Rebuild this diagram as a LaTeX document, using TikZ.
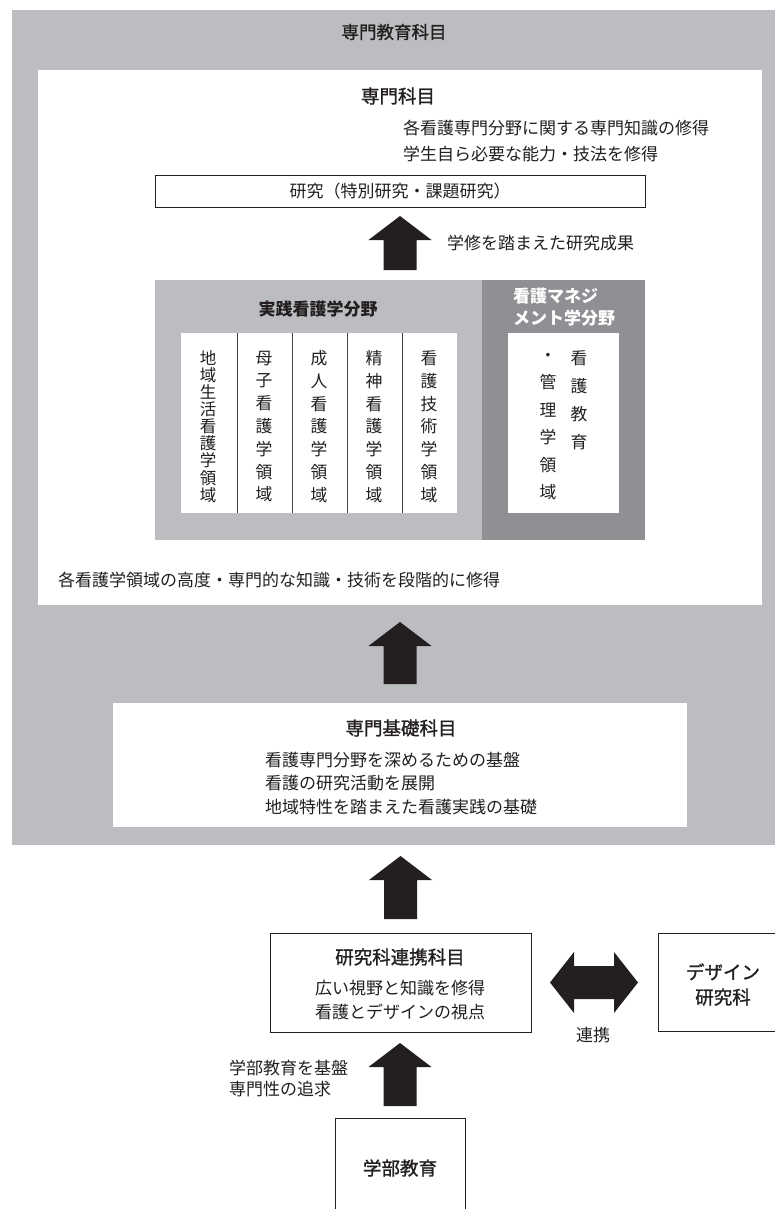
\documentclass[tikz,border=0pt]{standalone}
\usepackage{fontspec}
\setmainfont{Noto Sans CJK JP}
\newfontfamily\medfont[FakeBold=1.3]{Noto Sans CJK JP}
\usetikzlibrary{calc}
\definecolor{grayA}{RGB}{188,189,192}
\definecolor{grayB}{RGB}{143,144,147}
\definecolor{ink}{RGB}{35,31,32}
\definecolor{divider}{RGB}{70,70,72}
\begin{document}
\begin{tikzpicture}[x=1pt,y=-1pt,
  every node/.style={text=ink, inner sep=0pt, outer sep=0pt},
  body/.style={font=\fontsize{17}{26}\selectfont},
  ttl/.style={font=\medfont\fontsize{18.5}{24}\selectfont},
  frame/.style={draw=ink, line width=0.8pt, fill=white},
  vtext/.style={font=\fontsize{16.8}{#1}\selectfont, align=center},
  blk/.style={fill=ink},
  blockup/.style={to path={
    ($(\tikztostart)+(-16.5,0)$) -- ($(\tikztotarget)+(-16.5,24)$) -- ($(\tikztotarget)+(-31.5,24)$)
    -- (\tikztotarget) -- ($(\tikztotarget)+(31.5,24)$) -- ($(\tikztotarget)+(16.5,24)$)
    -- ($(\tikztostart)+(16.5,0)$) -- cycle}},
  blockboth/.style={to path={
    (\tikztostart) -- ($(\tikztostart)+(24,-30.5)$) -- ($(\tikztostart)+(24,-16.5)$)
    -- ($(\tikztotarget)+(-24,-16.5)$) -- ($(\tikztotarget)+(-24,-30.5)$) -- (\tikztotarget)
    -- ($(\tikztotarget)+(-24,30.5)$) -- ($(\tikztotarget)+(-24,16.5)$)
    -- ($(\tikztostart)+(24,16.5)$) -- ($(\tikztostart)+(24,30.5)$) -- cycle}}
]
\useasboundingbox (0,0) rectangle (775,1209);
\clip (0,0) rectangle (775,1209);

% outer grey frame
\node[fill=grayA, minimum width=778pt, minimum height=835pt] (outer) at (401,427.5) {};
\node[font=\medfont\fontsize{17.5}{22}\selectfont] (outerT) at (394,32) {専門教育科目};

% specialised subjects
\node[fill=white, minimum width=724pt, minimum height=535pt] (senmon) at (400,337.5) {};
\node[ttl] (senmonT) at (398,96) {専門科目};
\node[body, anchor=west, align=left] (senmonD) at (403,141) {各看護専門分野に関する専門知識の修得\\学生自ら必要な能力・技法を修得};
\node[frame, body, minimum width=490pt, minimum height=32pt] (kenkyu) at (400,191) {研究（特別研究・課題研究）};
\node[body, anchor=west] (seika) at (447,243) {学修を踏まえた研究成果};

% practice panel
\node[fill=grayA, minimum width=327pt, minimum height=260pt] (jissen) at (318.5,410) {};
\node[fill=grayB, minimum width=163pt, minimum height=260pt] (mgmt) at (563.5,410) {};
\node[font=\fontsize{17}{22}\selectfont\bfseries] (jissenT) at (318,309) {実践看護学分野};
\node[font=\fontsize{17}{22}\selectfont\bfseries, text=white, anchor=west, align=left] (mgmtT) at (513,307) {看護マネジ\\メント学分野};

\node[fill=white, minimum width=276pt, minimum height=180pt] (cols) at (319,423) {};
\foreach \dx in {56,111,166,221}
  \draw[divider, line width=0.8pt] ($(cols.north west)+(\dx,0)$) -- ($(cols.south west)+(\dx,0)$);
\node[vtext=17.1, font=\fontsize{16.5}{17.1}\selectfont] (c1) at (208,426.5) {地\\域\\生\\活\\看\\護\\学\\領\\域};
\node[vtext=22.8] (c2) at (264,426.5) {母\\子\\看\\護\\学\\領\\域};
\node[vtext=22.8] (c3) at (319,426.5) {成\\人\\看\\護\\学\\領\\域};
\node[vtext=22.8] (c4) at (374,426.5) {精\\神\\看\\護\\学\\領\\域};
\node[vtext=22.8] (c5) at (429,426.5) {看\\護\\技\\術\\学\\領\\域};

\node[fill=white, minimum width=111pt, minimum height=180pt] (mgmtW) at (563.5,423) {};
\node[vtext=28] (m1) at (579,400) {看\\護\\教\\育};
\node[vtext=27.4] (m2) at (548,426.5) {・\\管\\理\\学\\領\\域};

\node[body, anchor=west] (senmonB) at (58,580.5) {各看護学領域の高度・専門的な知識・技術を段階的に修得};

% basic subjects
\node[fill=white, minimum width=574pt, minimum height=124pt] (kiso) at (400,765) {};
\node[ttl] (kisoT) at (401,728) {専門基礎科目};
\node[body, anchor=west, align=left, font=\fontsize{17}{23.5}\selectfont] (kisoD) at (265,783.5) {看護専門分野を深めるための基盤\\看護の研究活動を展開\\地域特性を踏まえた看護実践の基礎};

% cooperation subjects
\node[frame, minimum width=261pt, minimum height=99pt] (renkei) at (400.5,982.5) {};
\node[ttl] (renkeiT) at (400,957) {研究科連携科目};
\node[body, align=center, font=\fontsize{17}{24}\selectfont] (renkeiD) at (400,1000) {広い視野と知識を修得\\看護とデザインの視点};

\node[frame, minimum width=132pt, minimum height=98pt] (design) at (724,982) {};
\node[ttl, align=center, font=\medfont\fontsize{18.5}{25}\selectfont] (designT) at (723,984.5) {デザイン\\研究科};
\node[body] (renkeiL) at (593,1035) {連携};

% undergraduate
\node[frame, minimum width=130pt, minimum height=107pt] (gakubu) at (400,1171.5) {};
\node[ttl] (gakubuT) at (400,1168) {学部教育};
\node[body, anchor=west, align=left, font=\fontsize{17}{21.6}\selectfont] (gakubuL) at (229,1078.5) {学部教育を基盤\\専門性の追求};

% block arrows
\coordinate (a1s) at ($(kenkyu.south)+(0,63)$);
\coordinate (a1e) at ($(kenkyu.south)+(0,9)$);
\coordinate (a2s) at ($(kiso.north)+(0,-19)$);
\coordinate (a2e) at ($(a2s |- senmon.south)+(0,17)$);
\coordinate (a3s) at ($(renkei.north)+(0,-14)$);
\coordinate (a3e) at ($(a3s |- outer.south)+(0,11)$);
\coordinate (a4s) at ($(gakubu.north)+(0,-12)$);
\coordinate (a4e) at ($(a4s |- renkei.south)+(0,11)$);
\coordinate (b1s) at ($(renkei.east)+(19,0)$);
\coordinate (b1e) at ($(design.west)+(-20,0.5)$);

\fill[blk] (a1s) to[blockup] (a1e);
\fill[blk] (a2s) to[blockup] (a2e);
\fill[blk] (a3s) to[blockup] (a3e);
\fill[blk] (a4s) to[blockup] (a4e);
\fill[blk] (b1s) to[blockboth] (b1e);
\end{tikzpicture}
\end{document}
